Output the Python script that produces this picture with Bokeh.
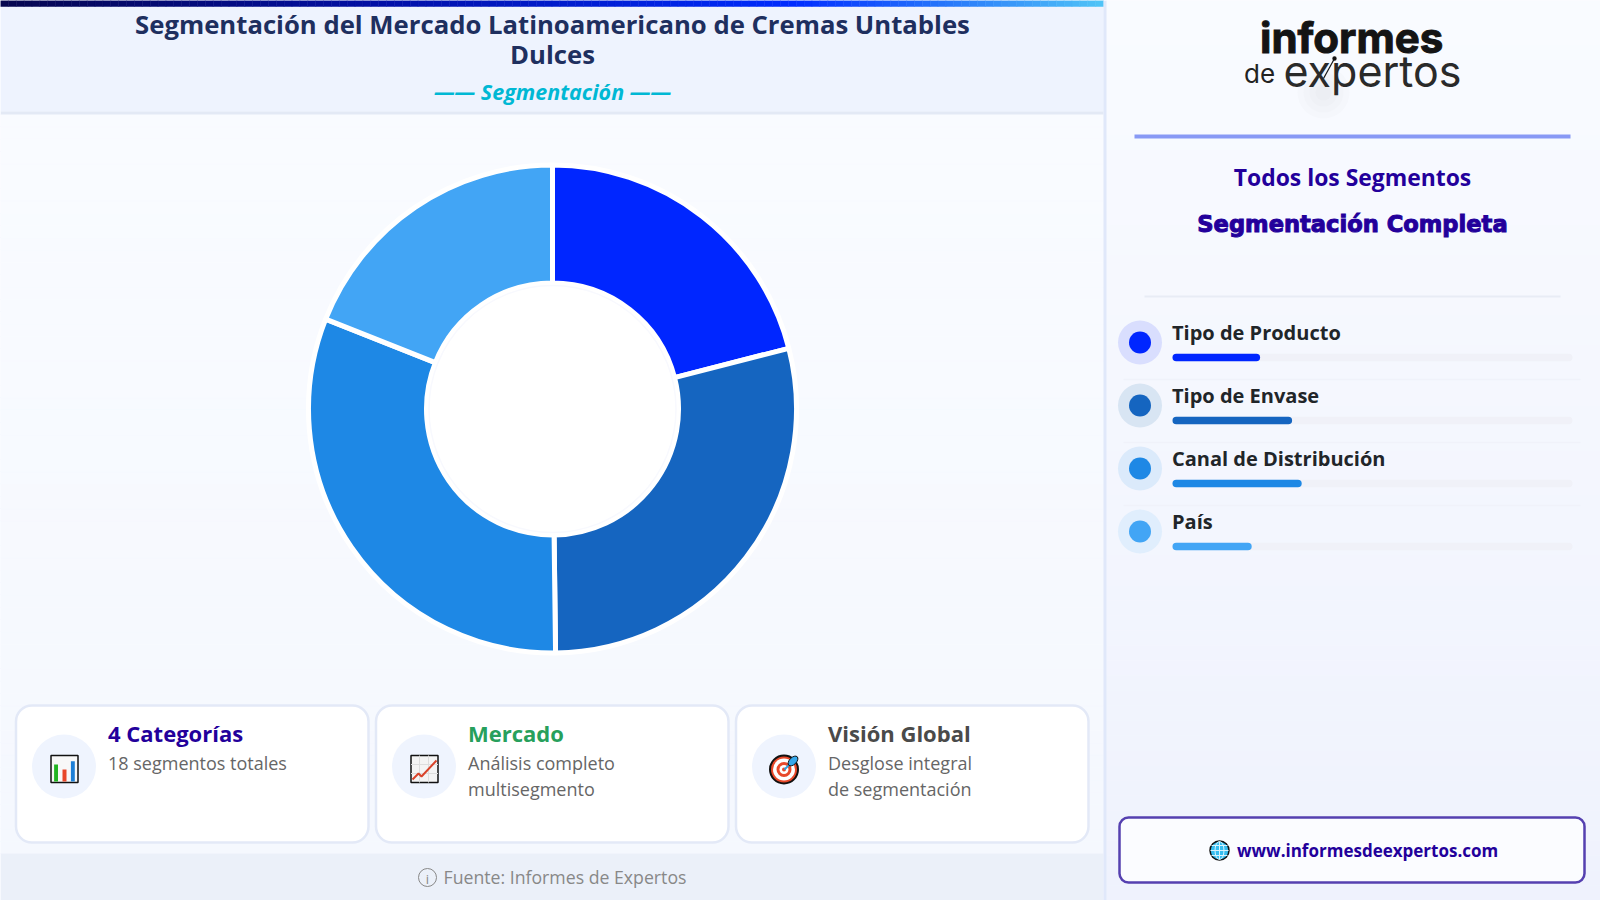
from bokeh.core.properties import value
from bokeh.embed import file_html
from bokeh.models import ColumnDataSource, Range1d
from bokeh.plotting import figure
from bokeh.resources import INLINE
import numpy as np

# chart values
segmentos = ["Tipo de Producto", "Tipo de Envase", "Canal de Distribución", "País"]
participacion = [21.0, 28.8, 31.2, 19.0]
barras_pct = [21.9, 29.9, 32.3, 19.8]
colores = ["#0026ff", "#1565c0", "#1e88e5", "#42a5f5"]
colores_suaves = ["#d9defe", "#d8e5f3", "#dbeafb", "#e0eefd"]

titulo = ["Segmentación del Mercado Latinoamericano de Cremas Untables", "Dulces"]
subtitulo = "—— Segmentación ——"
tarjetas = [
    ("4 Categorías", "#23009b", ["18 segmentos totales"]),
    ("Mercado", "#27a05c", ["Análisis completo", "multisegmento"]),
    ("Visión Global", "#4a4a4a", ["Desglose integral", "de segmentación"]),
]

SANS = "Open Sans"
W, H = 1600, 900

p = figure(width=W, height=H, x_range=Range1d(0, W), y_range=Range1d(H, 0),
           output_backend="svg", toolbar_location=None, min_border=0,
           x_axis_location=None, y_axis_location=None,
           outline_line_color=None, background_fill_color="#f8faff",
           border_fill_color="#f8faff")
p.grid.visible = False

# progress bars get their own 0-100 scale, the track runs from x=1172 to x=1572
p.extra_x_ranges["pct"] = Range1d((0 - 1172) / 4, (W - 1172) / 4)

# bokeh's svg text sits lower than the baseline asked for, about the font descent
DESC = {"Open Sans": 0.29, "Inter": 0.24, "DejaVu Sans": 0.24}


def label(x, y, text, size, color, font=SANS, style="normal", align="left", **kw):
    px = float(size.replace("px", ""))
    p.text([x], [y - DESC[font] * px], text=[text], text_font=value(font), text_font_size=size,
           text_font_style=style, text_color=color, text_align=align,
           text_baseline="alphabetic", **kw)


def mezcla(c0, c1, t):
    return "#%02x%02x%02x" % tuple(int(round(a + (b - a) * t)) for a, b in zip(c0, c1))


def degradado_h(x0, x1, y0, y1, stops, n=140):
    xs = np.linspace(x0, x1, n + 1)
    pos = [s[0] for s in stops]
    cols = []
    for t in np.linspace(0, 1, n):
        i = min(np.searchsorted(pos, t, side="right") - 1, len(stops) - 2)
        cols.append(mezcla(stops[i][1], stops[i + 1][1], (t - pos[i]) / (pos[i + 1] - pos[i])))
    p.quad(left=xs[:-1], right=xs[1:], top=y0, bottom=y1, fill_color=cols, line_color=cols, line_width=0.5)


def degradado_v(x0, x1, y0, y1, c0, c1, n=60):
    ys = np.linspace(y0, y1, n + 1)
    cols = [mezcla(c0, c1, t) for t in np.linspace(0, 1, n)]
    p.quad(left=x0, right=x1, top=ys[:-1], bottom=ys[1:], fill_color=cols, line_color=cols, line_width=0.5)


# backgrounds
degradado_v(0, 1103, 114, 853, (0xf9, 0xfb, 0xff), (0xf5, 0xf8, 0xfe))
p.quad(left=0, right=1103, top=6, bottom=111, fill_color="#eef3fe", line_color=None)
p.quad(left=0, right=1103, top=111, bottom=114, fill_color="#e3e9f5", line_color=None)
p.quad(left=0, right=1103, top=853, bottom=900, fill_color="#ebf0f9", line_color=None)
degradado_h(0, 1103, 0, 6, [(0, (0x06, 0x06, 0x50)), (0.35, (0x02, 0x10, 0xa8)),
                            (0.72, (0x00, 0x2c, 0xff)), (1, (0x4f, 0xc3, 0xf7))])
degradado_v(1106, 1600, 0, 900, (0xf9, 0xfb, 0xff), (0xef, 0xf2, 0xfd))
p.quad(left=1103, right=1106, top=0, bottom=900, fill_color="#e0e8fa", line_color=None)

# header
label(552, 31, titulo[0], "25.7px", "#1e2f5f", style="bold", align="center")
label(552, 61.5, titulo[1], "25.7px", "#1e2f5f", style="bold", align="center")
label(552, 97, subtitulo, "21.5px", "#00b8d4", style="bold italic", align="center")

# donut
fin = np.cumsum(participacion) / np.sum(participacion) * 2 * np.pi
inicio = np.concatenate([[0], fin[:-1]])
dona = ColumnDataSource(dict(seg=segmentos, ini=np.pi / 2 - fin, fin=np.pi / 2 - inicio, col=colores))
p.annular_wedge(x=552, y=408.5, inner_radius=126, outer_radius=244, start_angle="ini", end_angle="fin",
                fill_color="col", line_color="#ffffff", line_width=5, source=dona)
p.circle([552], [408.5], radius=123.5, fill_color="#ffffff", line_color="#f8f9fe", line_width=1.5)

# cards
for i, (nombre, col, lineas) in enumerate(tarjetas):
    x0 = 15.5 + i * 360
    p.quad(left=x0, right=x0 + 352.5, top=705, bottom=842, fill_color="#ffffff", line_color="#e3e9f7",
           line_width=2.5, border_radius=16)
    p.circle([x0 + 48], [766], radius=32, fill_color="#eff4fe", line_color=None)
    label(x0 + 92, 739, nombre, "22px", col, style="bold")
    for j, txt in enumerate(lineas):
        label(x0 + 92, 767.5 + j * 26, txt, "18px", "#666666")

# icon, bar chart
p.quad(left=50.5, right=77.5, top=755, bottom=782, fill_color="#f8f8f8", line_color="#111111", line_width=1.5)
p.quad(left=[53.6, 62, 70.4], right=[57.5, 66, 74.3], top=[764, 769, 760.7], bottom=781,
       fill_color=["#22b422", "#e8472a", "#1e7fd6"], line_color=None)
# icon, line chart
p.quad(left=410.5, right=437.5, top=755, bottom=782, fill_color="#f4f4f4", line_color="#111111", line_width=1.5)
p.multi_line([[410.5, 437.5], [410.5, 437.5], [419, 419], [428, 428]], [[764, 764], [773, 773], [755, 782], [755, 782]],
             line_color="#dddddd", line_width=1)
p.line([412, 418, 421, 436], [779, 773, 776, 760], line_color="#d9432a", line_width=2)
# icon, target
p.circle([783.5] * 5, [769] * 5, radius=[14, 11, 7.5, 4.5, 2],
         fill_color=["#e8492a", "#ffffff", "#e8492a", "#ffffff", "#e8492a"],
         line_color=["#111111", None, None, None, None], line_width=2)
p.line([784, 793], [769, 760], line_color="#2f9fe0", line_width=2)
p.ellipse([792.5], [760.5], width=12, height=7, angle=np.pi / 4, fill_color="#35a8ec", line_color="#111111", line_width=1)

# footer
p.circle([427], [877], radius=9, fill_color=None, line_color="#888888", line_width=1)
label(427, 882, "i", "13px", "#888888", align="center")
label(443, 882, "Fuente: Informes de Expertos", "17.7px", "#888888")

# logo
for r in [26, 20, 14, 8]:
    p.circle([1323], [92], radius=r, fill_color="#8a8a8a", fill_alpha=0.025, line_color=None)
label(1259.5, 47, "informes", "42px", "#141414", font="Inter", style="bold", text_outline_color="#141414")
label(1243.5, 79, "de", "26px", "#222222", font="Inter")
label(1283, 81, "expertos", "43px", "#2a2a2a", font="Inter")
p.line([1323, 1334], [78, 58], line_color="#141414", line_width=1.2)
p.circle([1334], [58], radius=2.2, fill_color="#141414", line_color=None)

# right panel headings
p.quad(left=1134, right=1570, top=134, bottom=138, fill_color="#8899f5", line_color=None)
label(1352, 184, "Todos los Segmentos", "22.9px", "#23009b", style="bold", align="center")
label(1352, 229, "Segmentación Completa", "22.6px", "#23009b", font="DejaVu Sans", style="bold", align="center",
      text_outline_color="#23009b")
p.quad(left=1144, right=1560, top=295, bottom=297, fill_color="#e8ecf5", line_color=None)

# legend with progress bars
filas_y = [342 + 63 * i for i in range(len(segmentos))]
barra_y = [y + 15 for y in filas_y]
fuente = ColumnDataSource(dict(y=filas_y, by=barra_y, tope=[100] * len(segmentos), pct=barras_pct,
                               col=colores, suave=colores_suaves))
p.multi_line([[1123, 1580]] * 3, [[y + 37, y + 37] for y in filas_y[:-1]], line_color="#f0f2fa", line_width=1.5)
p.circle(x=1139.5, y="y", radius=22, fill_color="suave", line_color=None, source=fuente)
p.circle(x=1139.5, y="y", radius=11, fill_color="col", line_color=None, source=fuente)
p.hbar(y="by", left=0, right="tope", height=7.5, fill_color="#f0f1f8", line_color=None, border_radius=4,
       x_range_name="pct", source=fuente)
p.hbar(y="by", left=0, right="pct", height=7.5, fill_color="col", line_color=None, border_radius=4,
       x_range_name="pct", source=fuente)
for y, nombre in zip(filas_y, segmentos):
    label(1171.5, y - 4, nombre, "20px", "#212529", style="bold")

# website button
p.quad(left=1119, right=1584, top=817, bottom=882, fill_color="#fbfcff", line_color="#5540b0", line_width=2.5,
       border_radius=9)
p.circle([1219], [850], radius=9.5, fill_color="#35bdf0", line_color="#111111", line_width=1.5)
p.ellipse([1219], [850], width=9, height=18, fill_color=None, line_color="#d8f4ff", line_width=1)
p.multi_line([[1210, 1228], [1211, 1227], [1211, 1227], [1219, 1219]], [[850, 850], [845, 845], [855, 855], [841, 859]],
             line_color="#d8f4ff", line_width=1)
label(1236.5, 855, "www.informesdeexpertos.com", "17px", "#23009b", style="bold")

open("out.html", "w").write(file_html(p, INLINE))
